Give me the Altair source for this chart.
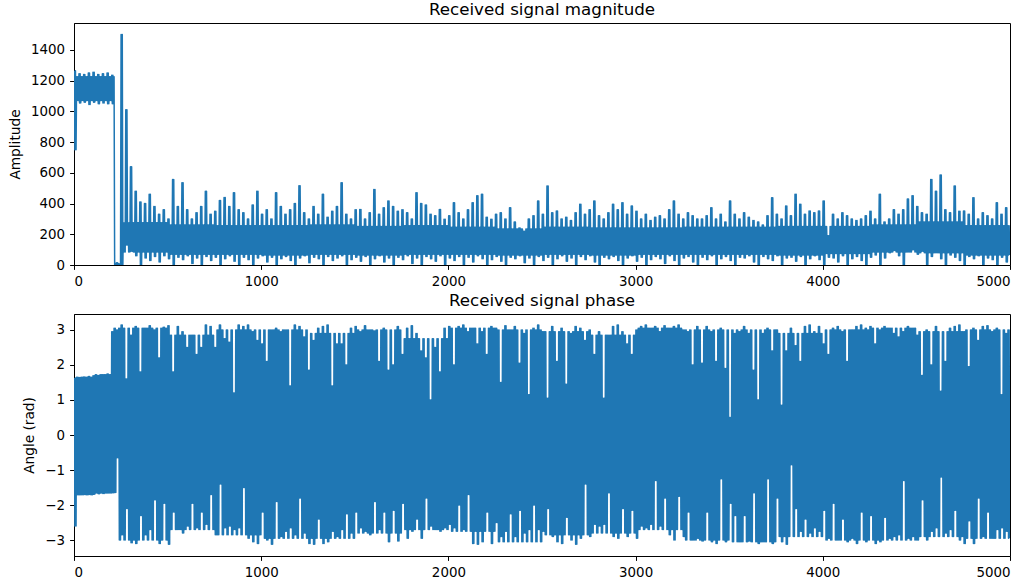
import altair as alt
import pandas as pd

# Received burst: 5000 samples. Each 25-sample bin is described by the peak
# (upper) and trough (lower) it reaches; the dense body of the trace between
# those excursions is given per stretch of samples (core top / bottom).
BIN = 25
N_SAMPLES = 5000

mag_upper = [
    1265, 1245, 1240, 1250, 1255, 1240, 1245, 1250, 1235, 15,
    1500, 1010, 640, 480, 410, 400, 460, 380, 330, 360,
    300, 557, 380, 536, 360, 300, 340, 380, 480, 330,
    350, 420, 440, 380, 470, 360, 340, 300, 390, 480,
    330, 360, 300, 470, 380, 330, 360, 400, 515, 340,
    300, 380, 330, 460, 310, 350, 380, 536, 330, 300,
    360, 362, 300, 340, 492, 330, 373, 417, 380, 350,
    360, 340, 300, 470, 400, 390, 330, 320, 362, 297,
    320, 405, 340, 300, 360, 405, 450, 460, 310, 297,
    330, 340, 300, 373, 280, 240, 220, 300, 320, 417,
    330, 514, 340, 351, 300, 310, 290, 340, 395, 330,
    360, 417, 320, 300, 340, 395, 360, 405, 330, 384,
    350, 300, 330, 290, 310, 320, 300, 360, 417, 330,
    300, 340, 320, 300, 300, 320, 373, 300, 330, 280,
    417, 330, 300, 340, 310, 290, 280, 260, 320, 438,
    330, 300, 384, 320, 460, 395, 330, 351, 340, 351,
    417, 190, 330, 300, 340, 320, 300, 290, 300, 320,
    350, 300, 460, 280, 300, 360, 330, 360, 430, 450,
    380, 340, 330, 557, 480, 586, 360, 340, 514, 350,
    351, 330, 438, 300, 340, 320, 300, 405, 330, 373,
]

mag_lower = [
    750, 1055, 1060, 1045, 1060, 1050, 1055, 1050, 1050, 0,
    0, 130, 90, 60, 0, 45, 30, 55, 20, 60,
    40, 0, 50, 35, 60, 10, 45, 0, 55, 30,
    50, 0, 40, 60, 25, 0, 50, 35, 0, 45,
    60, 20, 50, 0, 40, 55, 30, 0, 45, 60,
    15, 50, 40, 0, 55, 30, 45, 60, 0, 35,
    50, 25, 55, 0, 40, 60, 20, 45, 0, 50,
    35, 60, 10, 45, 0, 55, 40, 25, 60, 0,
    45, 30, 55, 0, 50, 20, 60, 40, 0, 35,
    55, 25, 0, 50, 40, 60, 15, 45, 0, 55,
    30, 50, 0, 40, 60, 25, 45, 0, 55, 35,
    60, 20, 0, 50, 40, 55, 30, 0, 45, 60,
    25, 50, 0, 35, 55, 40, 10, 60, 30, 0,
    45, 55, 20, 0, 50, 35, 60, 0, 40, 55,
    30, 0, 50, 45, 60, 20, 0, 55, 40, 30,
    60, 0, 45, 50, 25, 55, 0, 40, 60, 35,
    0, 50, 45, 20, 60, 0, 40, 55, 30, 0,
    50, 65, 0, 45, 80, 95, 60, 0, 85, 100,
    70, 90, 0, 55, 80, 40, 0, 65, 50, 30,
    0, 55, 40, 60, 0, 45, 35, 0, 50, 20,
]

# Dense body of the magnitude trace: stretch start sample, top, bottom
mag_core_start = [0, 217, 260, 500, 750, 1000, 1250, 1500, 1750, 2000, 2250,
                  2500, 2750, 3000, 3250, 3500, 3750, 4000, 4250, 4500, 4750]
mag_core_top = [1225, 8, 275, 260, 255, 255, 260, 250, 255, 245, 235,
                245, 240, 240, 245, 245, 250, 250, 260, 280, 255]
mag_core_bottom = [1070, 0, 85, 70, 70, 65, 70, 65, 70, 70, 65,
                   70, 65, 70, 70, 70, 65, 75, 85, 80, 65]

phase_upper = [
    1.63, 1.64, 1.66, 1.67, 1.69, 1.70, 1.72, 1.74, 2.95, 3.00,
    3.14, 1.60, 2.85, 3.10, 1.80, 3.05, 3.12, 3.00, 2.20, 3.08,
    3.12, 1.80, 3.10, 2.95, 2.50, 2.85, 2.30, 2.50, 3.14, 3.10,
    2.50, 3.14, 2.75, 2.65, 1.20, 3.14, 3.10, 3.14, 2.95, 2.70,
    2.60, 2.10, 3.00, 3.05, 2.95, 3.00, 1.40, 3.14, 3.10, 2.80,
    1.85, 2.70, 3.05, 3.10, 3.14, 1.40, 2.60, 2.60, 2.00, 3.05,
    3.10, 2.95, 3.12, 3.00, 2.97, 2.10, 3.05, 1.85, 2.00, 3.10,
    2.30, 3.05, 3.12, 2.90, 2.40, 2.20, 1.00, 2.50, 1.80, 3.05,
    3.10, 2.00, 3.10, 3.14, 2.95, 3.05, 2.60, 2.95, 2.30, 3.10,
    3.05, 1.50, 3.12, 3.00, 3.10, 2.05, 2.90, 1.15, 3.05, 3.14,
    2.95, 1.05, 3.10, 2.10, 3.05, 1.45, 2.90, 3.10, 3.05, 2.70,
    3.00, 2.30, 2.95, 1.05, 2.85, 3.10, 3.14, 2.95, 2.60, 2.30,
    3.00, 3.10, 3.14, 3.05, 3.10, 2.95, 3.12, 3.05, 3.10, 3.14,
    3.00, 2.95, 2.00, 3.10, 2.05, 3.10, 2.95, 2.10, 3.05, 1.90,
    0.50, 2.90, 2.95, 3.10, 2.90, 1.85, 1.00, 2.90, 3.05, 2.40,
    3.00, 0.85, 2.40, 3.05, 2.55, 2.10, 3.10, 3.14, 2.95, 3.10,
    2.60, 2.30, 3.05, 3.10, 2.95, 2.10, 3.00, 3.10, 3.14, 3.05,
    3.10, 2.60, 3.00, 3.10, 3.05, 2.90, 2.80, 2.95, 3.10, 3.05,
    2.85, 1.70, 3.00, 2.00, 3.10, 1.25, 2.10, 3.05, 3.10, 3.14,
    2.95, 1.95, 3.05, 2.70, 3.10, 3.12, 2.95, 3.05, 1.15, 2.90,
]

phase_lower = [
    -2.60, -1.71, -1.70, -1.70, -1.69, -1.68, -1.67, -1.66, -1.65, -0.65,
    -2.85, -2.10, -3.08, -3.10, -2.30, -2.85, -2.70, -1.85, -3.10, -1.95,
    -3.12, -2.20, -2.70, -2.80, -2.60, -1.95, -2.65, -2.20, -2.55, -1.70,
    -2.85, -1.40, -2.65, -2.60, -2.70, -2.65, -1.50, -2.95, -3.05, -3.10,
    -2.20, -3.00, -3.12, -1.90, -2.90, -2.75, -2.65, -2.85, -1.80, -2.80,
    -3.10, -3.12, -2.40, -3.10, -3.05, -2.75, -2.90, -2.70, -2.25, -2.80,
    -2.20, -2.65, -2.75, -2.85, -1.90, -2.70, -2.20, -3.05, -2.15, -3.03,
    -1.95, -2.95, -2.75, -2.40, -2.95, -1.80, -2.60, -2.70, -2.75, -2.65,
    -2.55, -2.65, -2.00, -2.70, -1.70, -3.10, -3.12, -3.05, -2.20, -3.10,
    -2.50, -2.90, -2.75, -2.25, -2.90, -2.15, -2.80, -2.70, -2.00, -2.70,
    -2.75, -2.10, -2.90, -3.05, -3.10, -2.35, -3.00, -3.12, -2.95, -1.40,
    -2.90, -2.55, -2.60, -2.55, -1.65, -2.90, -2.95, -2.10, -2.90, -2.15,
    -2.95, -2.60, -2.65, -2.55, -1.30, -2.60, -1.80, -2.85, -3.00, -1.75,
    -2.90, -2.20, -3.00, -2.95, -3.03, -2.20, -3.05, -3.10, -1.25, -3.05,
    -1.95, -2.30, -3.05, -2.30, -3.03, -1.65, -3.10, -3.05, -1.25, -3.10,
    -1.80, -3.05, -3.12, -0.85, -2.10, -2.75, -2.40, -2.80, -2.65, -2.75,
    -2.15, -2.95, -1.95, -3.00, -2.40, -3.05, -2.95, -3.10, -2.20, -3.05,
    -2.30, -3.10, -3.05, -2.35, -2.95, -2.90, -2.85, -1.30, -2.95, -2.90,
    -3.00, -1.85, -3.00, -2.75, -2.65, -1.20, -2.80, -2.70, -2.15, -3.00,
    -3.10, -2.45, -3.10, -1.80, -2.90, -2.20, -2.95, -2.70, -2.65, -2.75,
]

# Dense body of the phase trace: stretch start sample, top, bottom
phase_core_start = [0, 110, 212, 235, 500, 750, 1000, 1250, 1500, 1750, 2000,
                    2250, 2500, 2750, 3000, 3250, 3500, 3750, 4000, 4250, 4500,
                    4750]
phase_core_top = [1.65, 1.72, 3.05, 3.05, 2.85, 3.00, 3.00, 2.90, 3.00, 2.75,
                  3.05, 3.00, 2.95, 2.85, 3.05, 3.00, 3.00, 2.90, 3.00, 3.05,
                  2.95, 3.00]
phase_core_bottom = [-1.71, -1.66, -1.64, -3.00, -2.70, -2.85, -2.95, -2.95,
                     -2.80, -2.70, -2.75, -3.05, -2.85, -2.80, -2.70, -3.00,
                     -3.05, -2.90, -3.00, -3.00, -2.90, -2.95]

x_ticks = [0, 1000, 2000, 3000, 4000, 5000]
mag_ticks = [0, 200, 400, 600, 800, 1000, 1200, 1400]
phase_ticks = [-3, -2, -1, 0, 1, 2, 3]

BLUE = "#1f77b4"
FONT = "DejaVu Sans"
POINTS_PER_BIN = 8


def core_at(sample, starts, levels):
    level = levels[0]
    for s, v in zip(starts, levels):
        if sample >= s:
            level = v
    return level


def trace(upper, lower, core_start, core_top, core_bottom):
    """Sample sequence: each bin swings out to its peak and trough twice,
    then oscillates inside the dense body of the trace."""
    step = BIN / POINTS_PER_BIN
    samples, values = [], []
    for i, (hi, lo) in enumerate(zip(upper, lower)):
        for k in range(POINTS_PER_BIN):
            s = i * BIN + (k + 0.5) * step
            if k < 4:
                v = hi if k % 2 == 0 else lo
            elif k % 2 == 0:
                v = core_at(s, core_start, core_top)
            else:
                v = core_at(s, core_start, core_bottom)
            samples.append(s)
            values.append(v)
    return pd.DataFrame({"sample": samples, "value": values})


def panel(df, title, y_title, y_domain, y_ticks):
    return (
        alt.Chart(
            df,
            title=alt.TitleParams(
                title, font=FONT, fontSize=16.7, fontWeight="normal",
                color="#000", offset=4,
            ),
        )
        .mark_line(color=BLUE, strokeWidth=1.5, strokeJoin="round", clip=True)
        .encode(
            x=alt.X(
                "sample:Q",
                scale=alt.Scale(domain=[0, N_SAMPLES], nice=False, zero=False),
                axis=alt.Axis(values=x_ticks, title=None, format="d"),
            ),
            y=alt.Y(
                "value:Q",
                scale=alt.Scale(domain=y_domain, nice=False, zero=False),
                axis=alt.Axis(values=y_ticks, title=y_title, format="d"),
            ),
        )
        .properties(width=936, height=242)
    )


magnitude = panel(
    trace(mag_upper, mag_lower, mag_core_start, mag_core_top, mag_core_bottom),
    "Received signal magnitude", "Amplitude", [0, 1575], mag_ticks,
)
phase = panel(
    trace(phase_upper, phase_lower, phase_core_start, phase_core_top,
          phase_core_bottom),
    "Received signal phase", "Angle (rad)", [-3.456, 3.456], phase_ticks,
)

chart = (
    alt.vconcat(magnitude, phase, spacing=3)
    .properties(padding={"left": 8, "top": 1, "right": 0, "bottom": 0})
    .configure_view(stroke="#000", strokeWidth=1)
    .configure_axis(
        grid=False,
        domainColor="#000",
        domainWidth=1,
        tickColor="#000",
        tickSize=4.4,
        tickWidth=1,
        labelFont=FONT,
        labelFontSize=13.4,
        labelColor="#000",
        labelPadding=5,
        titleFont=FONT,
        titleFontSize=13.7,
        titleFontWeight="normal",
        titleColor="#000",
        titlePadding=8,
    )
)

chart.save("out.html", embed_options={"renderer": "svg", "actions": False})
